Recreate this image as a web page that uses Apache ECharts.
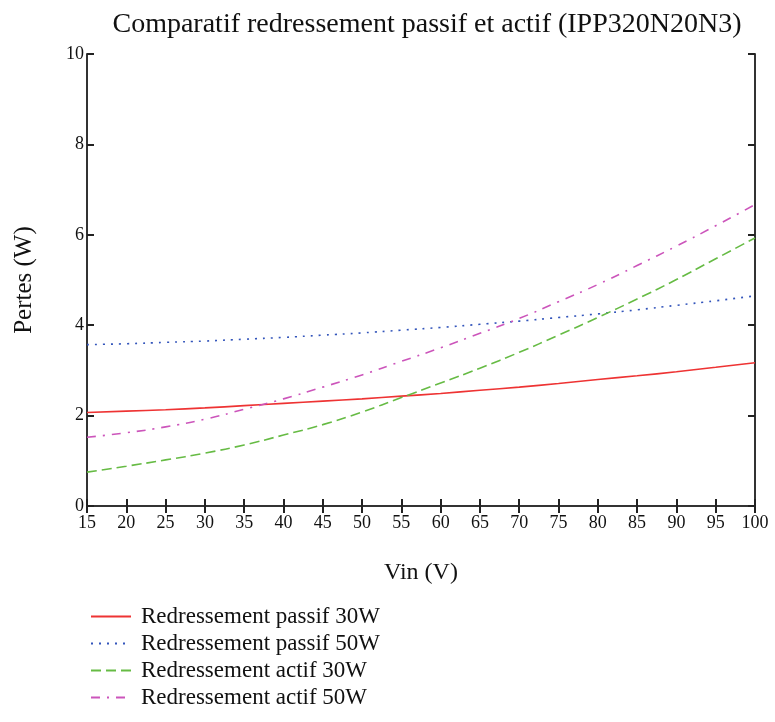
<!DOCTYPE html>
<html>
<head>
<meta charset="utf-8">
<script src="https://cdn.jsdelivr.net/npm/echarts@6/dist/echarts.min.js"></script>
<style>
  html, body { margin: 0; padding: 0; background: #fff; }
  #chart { width: 775px; height: 722px; }
</style>
</head>
<body>
<div id="chart"></div>
<script>
// tension d'entrée (V)
const vin = [15, 20, 25, 30, 35, 40, 45, 50, 55, 60, 65, 70, 75, 80, 85, 90, 95, 100];

// pertes (W)
const passif30 = [2.07, 2.10, 2.13, 2.17, 2.22, 2.27, 2.32, 2.37, 2.43, 2.49, 2.56, 2.63, 2.71, 2.80, 2.88, 2.97, 3.07, 3.17];
const passif50 = [3.57, 3.59, 3.62, 3.65, 3.69, 3.73, 3.78, 3.83, 3.89, 3.95, 4.02, 4.09, 4.17, 4.25, 4.34, 4.44, 4.54, 4.65];
const actif30 = [0.75, 0.88, 1.02, 1.17, 1.35, 1.57, 1.80, 2.08, 2.40, 2.72, 3.05, 3.40, 3.78, 4.17, 4.58, 5.01, 5.47, 5.93];
const actif50 = [1.52, 1.62, 1.75, 1.92, 2.14, 2.37, 2.63, 2.90, 3.20, 3.50, 3.82, 4.15, 4.52, 4.90, 5.32, 5.75, 6.20, 6.67];

const names = ['Redressement passif 30W', 'Redressement passif 50W', 'Redressement actif 30W', 'Redressement actif 50W'];

const serif = 'Liberation Serif';
const pairs = arr => vin.map((v, i) => [v, arr[i]]);

const chart = echarts.init(document.getElementById('chart'));

const axisLine = { show: true, lineStyle: { color: '#333', width: 2 } };
const axisTick = { show: true, inside: true, length: 7, lineStyle: { color: '#222', width: 2 } };

const mkSeries = (name, arr, color, type) => ({
  name: name,
  type: 'line',
  data: pairs(arr),
  smooth: true,
  symbol: 'none',
  lineStyle: { color: color, width: 1.6, type: type },
  itemStyle: { color: color }
});

chart.setOption({
  animation: false,
  title: {
    text: 'Comparatif redressement passif et actif (IPP320N20N3)',
    left: 422, top: 6, textAlign: 'center',
    textStyle: { fontFamily: serif, fontSize: 28, fontWeight: 'normal', color: '#111' }
  },
  legend: {
    orient: 'vertical',
    left: 85, top: 600, height: 122,
    itemWidth: 40, itemHeight: 14, itemGap: 4,
    itemStyle: { opacity: 0 },
    data: names,
    textStyle: { fontFamily: serif, fontSize: 23, color: '#111', lineHeight: 23, padding: [0, 0, 0, 5] }
  },
  grid: { left: 87, right: 20, top: 54, bottom: 216, show: false },
  xAxis: [{
    type: 'value', min: 15, max: 100, interval: 5,
    name: 'Vin (V)', nameLocation: 'middle', nameGap: 55,
    nameTextStyle: { fontFamily: serif, fontSize: 24, color: '#111' },
    axisLine: axisLine, axisTick: axisTick,
    axisLabel: { fontFamily: serif, fontSize: 18, color: '#111', margin: 8 },
    splitLine: { show: false }
  }, {
    type: 'value', min: 15, max: 100, interval: 5, position: 'top',
    axisLine: axisLine, axisTick: axisTick, axisLabel: { show: false }, splitLine: { show: false }
  }],
  yAxis: [{
    type: 'value', min: 0, max: 10, interval: 2,
    name: 'Pertes (W)', nameLocation: 'middle', nameGap: 50,
    nameTextStyle: { fontFamily: serif, fontSize: 25, color: '#111' },
    axisLine: axisLine, axisTick: axisTick,
    axisLabel: { fontFamily: serif, fontSize: 18, color: '#111', margin: 3 },
    splitLine: { show: false }
  }, {
    type: 'value', min: 0, max: 10, interval: 2, position: 'right',
    axisLine: axisLine, axisTick: axisTick, axisLabel: { show: false }, splitLine: { show: false }
  }],
  series: [
    mkSeries(names[0], passif30, '#ee3333', 'solid'),
    mkSeries(names[1], passif50, '#3355bb', [2, 6]),
    mkSeries(names[2], actif30, '#66bb44', [10, 5]),
    mkSeries(names[3], actif50, '#cc55bb', [9, 7, 2, 7])
  ]
});
</script>
</body>
</html>
